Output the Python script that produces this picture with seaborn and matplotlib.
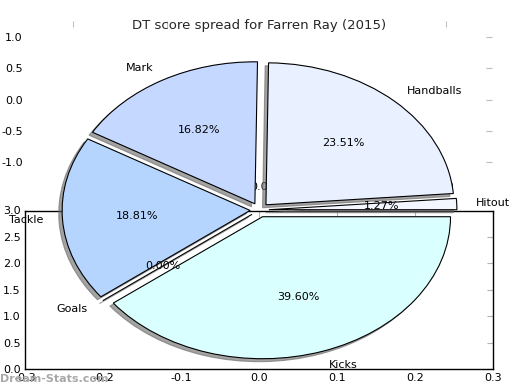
import matplotlib
matplotlib.use('Agg')
import matplotlib.pyplot as plt
import numpy as np
import seaborn as sns

# DT score share per stat (counter-clockwise from 0 degrees)
STATS = ['Hitout', 'Handballs', 'Mark', 'Tackle', 'Goals', 'Kicks']
SHARE = [1.27, 23.51, 16.82, 18.81, 0.00, 39.60]
WEDGE_COLORS = ['#f4f7ff', '#e9f0ff', '#c5d8ff', '#b5d5ff', '#cfe2ff', '#d9ffff']

TITLE = 'DT score spread for Farren Ray (2015)'
BOTTOM_XTICKS = [-0.3, -0.2, -0.1, 0.0, 0.1, 0.2, 0.3]
BOTTOM_YTICKS = [0.0, 0.5, 1.0, 1.5, 2.0, 2.5, 3.0]
TOP_XTICKS = [-1.0, -0.5, 0.0, 0.5, 1.0]
TOP_YTICKS = [-1.0, -0.5, 0.0, 0.5, 1.0]

sns.set_theme(style='white', rc={'axes.edgecolor': 'black', 'axes.linewidth': 1.0})
plt.rcParams['font.family'] = ['DejaVu Sans']
plt.rcParams['font.size'] = 8

W, H = 520, 390
fig = plt.figure(figsize=(W / 100, H / 100), dpi=100)


def px_box(left, top, right, bottom):
    return [left / W, (H - bottom) / H, (right - left) / W, (bottom - top) / H]


def fmt(v):
    return f'{v:.1f}'  # plain hyphen minus, like the old renderer


# second (lower) subplot with a frame
ax_low = fig.add_axes(px_box(25, 210.5, 493, 369))
ax_low.set_xlim(-0.3, 0.3)
ax_low.set_ylim(0, 3)
ax_low.set_xticks(BOTTOM_XTICKS)
ax_low.set_yticks(BOTTOM_YTICKS)
ax_low.set_xticklabels([fmt(v) for v in BOTTOM_XTICKS])
ax_low.set_yticklabels([fmt(v) for v in BOTTOM_YTICKS])
ax_low.tick_params(direction='in', top=True, right=True, length=4, width=0.8,
                   color='0.7', labelsize=8, pad=3, labelcolor='black')
for sp in ax_low.spines.values():
    sp.set_linewidth(1.0)
    sp.set_color('black')

# upper subplot: frame lost, ticks remain
ax_up = fig.add_axes(px_box(27, 21, 492, 178))
ax_up.set_xlim(-1.25, 1.25)
ax_up.set_ylim(-1.25, 1.25)
ax_up.set_xticks(TOP_XTICKS)
ax_up.set_yticks(TOP_YTICKS)
ax_up.set_xticklabels([fmt(v) for v in TOP_XTICKS])
ax_up.set_yticklabels([fmt(v) for v in TOP_YTICKS])
ax_up.tick_params(direction='in', top=True, right=True, length=4, width=0.8,
                  color='0.75', labelsize=8, pad=3, labelcolor='black')
for sp in ax_up.spines.values():
    sp.set_visible(False)
ax_up.patch.set_visible(False)

# pie drawn on top, stretched (no equal aspect)
cx, cy, rx, ry = 259.5, 210, 188, 142
ax_pie = fig.add_axes(px_box(cx - 1.25 * rx, cy - 1.25 * ry, cx + 1.25 * rx, cy + 1.25 * ry))
ax_pie.patch.set_visible(False)
wedges, texts, autotexts = ax_pie.pie(
    SHARE, labels=STATS, colors=WEDGE_COLORS, explode=[0.05] * len(SHARE),
    autopct='%1.2f%%', startangle=0, pctdistance=0.6, labeldistance=1.1,
    shadow={'ox': -0.013, 'oy': -0.015, 'facecolor': '0.4', 'edgecolor': '0.4', 'alpha': 0.6},
    wedgeprops={'edgecolor': 'black', 'linewidth': 0.8},
    textprops={'fontsize': 8, 'color': 'black'})
for w in wedges:
    w.set_clip_on(False)
for t in texts + autotexts:
    t.set_clip_on(False)
ax_pie.set_aspect('auto')
ax_pie.set_xlim(-1.25, 1.25)
ax_pie.set_ylim(-1.25, 1.25)
ax_pie.axis('off')

fig.text(cx / W, 1 - 26 / H, TITLE, ha='center', va='center', fontsize=9.5)
fig.text(0.0, 1 - 379 / H, 'Dream-Stats.com', ha='left', va='center',
         fontsize=8, fontweight='bold', color='#a8a8a8')

fig.savefig('out.png', dpi=100)
